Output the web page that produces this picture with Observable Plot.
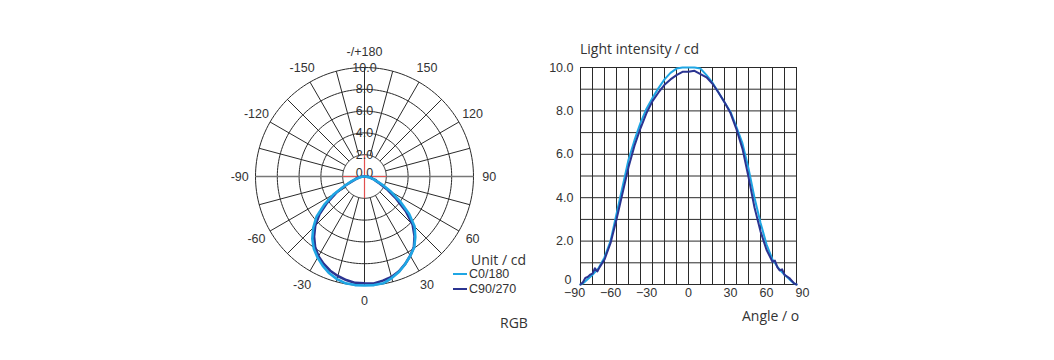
<!DOCTYPE html>
<html><head><meta charset="utf-8">
<script src="https://cdn.jsdelivr.net/npm/d3@7"></script>
<script src="https://cdn.jsdelivr.net/npm/@observablehq/plot@0.6"></script>
<style>
html,body{margin:0;padding:0;background:#fff;}
body{width:1054px;height:360px;position:relative;overflow:hidden;font-family:"Liberation Sans",Arial,sans-serif;}
.abs{position:absolute;white-space:nowrap;}
.os{font-family:"Open Sans",sans-serif;color:#333;line-height:18px;}
.lg{font-family:"Liberation Sans",Arial,sans-serif;color:#333;font-size:12.5px;line-height:14px;}
.sw{position:absolute;width:14px;height:0;border-top:2.5px solid;}
</style></head><body>
<div id="polar" class="abs" style="left:223.5px;top:36px"></div>
<div id="cart" class="abs" style="left:530px;top:47px"></div>
<div id="ylabel" class="abs os" style="left:580px;top:40px;font-size:14px"></div>
<div id="xlabel" class="abs os" style="left:742px;top:307px;font-size:14px"></div>
<div id="unit" class="abs os" style="left:471px;top:251px;font-size:14px"></div>
<div id="legend"></div>
<div id="note" class="abs os" style="left:500px;top:314px;font-size:14px"></div>
<script>
// ---- data ----
const seriesNames = ["C0/180", "C90/270"];
const seriesColors = ["#1fa6e4", "#2b3491"];
const anglesC0 = [-90,-88,-85,-82,-80,-75,-70,-65,-60,-55,-50,-45,-40,-35,-30,-25,-20,-15,-10,-5,0,5,10,15,20,25,30,35,40,45,50,55,60,65,70,75,80,85,88,90];
const valuesC0 = [0,0.05,0.2,0.35,0.45,0.75,1.25,2.0,3.25,4.5,5.75,6.65,7.45,8.1,8.6,9.05,9.45,9.75,9.95,10.0,10.0,10.0,9.95,9.65,9.3,8.85,8.4,7.95,7.25,6.5,5.35,4.0,2.85,1.85,1.15,0.75,0.45,0.2,0.05,0];
const anglesC90 = [-90,-88,-86,-84,-82,-80,-78,-76,-74,-70,-65,-60,-55,-50,-45,-40,-35,-30,-25,-20,-15,-10,-5,0,5,10,15,20,25,30,35,40,45,50,55,60,65,70,72,74,76,78,80,84,88,90];
const valuesC90 = [0,0.1,0.3,0.35,0.45,0.5,0.75,0.6,0.8,1.15,1.9,3.0,4.2,5.4,6.4,7.2,7.9,8.45,8.85,9.2,9.45,9.65,9.8,9.8,9.85,9.7,9.55,9.25,8.85,8.4,7.9,7.15,6.25,4.95,3.55,2.45,1.6,1.05,1.1,0.8,0.65,0.7,0.45,0.3,0.05,0];
const yTicks = [0, 2, 4, 6, 8, 10];
const yTickLabels = ["0", "2.0", "4.0", "6.0", "8.0", "10.0"];
const xTicks = [-90, -60, -30, 0, 30, 60, 90];
const polarRings = [2, 4, 6, 8, 10];
const polarRingLabelValues = [0, 2, 4, 6, 8, 10];
const polarRingLabels = ["0.0", "2.0", "4.0", "6.0", "8.0", "10.0"];
const polarAngleTicks = [-150, -120, -90, -60, -30, 0, 30, 60, 90, 120, 150, 180];
const polarAngleLabels = ["-150", "-120", "-90", "-60", "-30", "0", "30", "60", "90", "120", "150", "-/+180"];
const spokeStep = 15;
const yAxisTitle = "Light intensity / cd";
const xAxisTitle = "Angle / o";
const unitText = "Unit / cd";
const noteText = "RGB";

// ---- build table ----
const rows = [];
anglesC0.forEach((a, i) => rows.push({series: seriesNames[0], angle: a, value: valuesC0[i]}));
anglesC90.forEach((a, i) => rows.push({series: seriesNames[1], angle: a, value: valuesC90[i]}));
const rowsLightOnTop = rows.filter(d => d.series === seriesNames[1]).concat(rows.filter(d => d.series === seriesNames[0]));

const textColor = "#333";
const gridColor = "#2a2a2a";
const fmtY = d => yTickLabels[yTicks.indexOf(d)];

// ---- cartesian chart ----
const cart = Plot.plot({
  width: 296, height: 267,
  marginLeft: 50, marginRight: 30, marginTop: 20, marginBottom: 30,
  style: {fontFamily: "'Liberation Sans', Arial, sans-serif", fontSize: "12.5px", color: textColor, background: "transparent", overflow: "visible"},
  x: {domain: [-90, 90]},
  y: {domain: [0, 10]},
  color: {domain: seriesNames, range: seriesColors},
  marks: [
    Plot.gridX(d3.range(-90, 91, 10), {stroke: gridColor, strokeOpacity: 1}),
    Plot.gridY(d3.range(0, 10.001, 1), {stroke: gridColor, strokeOpacity: 1}),
    Plot.axisX(xTicks.filter(d => d < 0), {tickSize: 0, tickPadding: 4, label: null, fill: textColor, dx: -6}),
    Plot.axisX(xTicks.filter(d => d === 0), {tickSize: 0, tickPadding: 4, label: null, fill: textColor}),
    Plot.axisX(xTicks.filter(d => d > 0), {tickSize: 0, tickPadding: 4, label: null, fill: textColor, dx: 6}),
    Plot.axisY(yTicks.filter(d => d > 0), {tickSize: 0, tickPadding: 7, label: null, fill: textColor, tickFormat: fmtY}),
    Plot.axisY(yTicks.filter(d => d === 0), {tickSize: 0, tickPadding: 9, label: null, fill: textColor, tickFormat: fmtY, dy: -5}),
    Plot.line(rows, {x: "angle", y: "value", z: "series", stroke: "series", strokeWidth: 2})
  ]
});
document.getElementById("cart").appendChild(cart);

// ---- polar chart ----
const S = 280, half = 140 / 10.9;
const rad = a => a * Math.PI / 180;
const px = (a, r) => r * Math.sin(rad(a));
const py = (a, r) => -r * Math.cos(rad(a));
const ringPts = polarRings.flatMap(r => d3.range(0, 361, 2).map(a => ({ring: r, x: px(a, r), y: py(a, r)})));
const spokes = d3.range(0, 360, spokeStep).filter(a => a % 90 !== 0);
const inner = polarRings[0], outer = polarRings[polarRings.length - 1];
const labelR = 11.45;

const polar = Plot.plot({
  width: S, height: S, margin: 0,
  style: {fontFamily: "'Liberation Sans', Arial, sans-serif", fontSize: "12.5px", color: textColor, background: "transparent", overflow: "visible"},
  x: {domain: [-half, half], axis: null},
  y: {domain: [-half, half], axis: null},
  color: {domain: seriesNames, range: seriesColors},
  marks: [
    Plot.line(ringPts, {x: "x", y: "y", z: "ring", stroke: gridColor, strokeWidth: 1}),
    Plot.link(spokes, {x1: a => px(a, inner), y1: a => py(a, inner), x2: a => px(a, outer), y2: a => py(a, outer), stroke: gridColor, strokeWidth: 1}),
    Plot.link([90], {x1: -outer, y1: 0, x2: outer, y2: 0, stroke: "#777", strokeWidth: 1.6}),
    Plot.link([0, 180], {x1: 0, y1: a => py(a, inner), x2: 0, y2: a => py(a, outer), stroke: gridColor, strokeWidth: 1}),
    Plot.link([0], {x1: -inner, y1: 0, x2: inner, y2: 0, stroke: "#e0504f", strokeWidth: 1.2}),
    Plot.link([0], {x1: 0, y1: -inner, x2: 0, y2: inner, stroke: "#e0504f", strokeWidth: 1.2}),
    Plot.text(polarRingLabelValues.filter(d => d > 0), {x: 0, y: d => d, text: d => polarRingLabels[polarRingLabelValues.indexOf(d)], fill: textColor}),
    Plot.text(polarRingLabelValues.filter(d => d === 0), {x: 0, y: d => d, text: d => polarRingLabels[polarRingLabelValues.indexOf(d)], fill: textColor, dy: -4}),
    Plot.text(polarAngleTicks, {x: a => px(a, labelR), y: a => py(a, labelR), text: (d, i) => polarAngleLabels[i], fill: textColor}),
    Plot.line(rowsLightOnTop, {x: d => px(d.angle, d.value), y: d => py(d.angle, d.value), z: "series", stroke: "series", strokeWidth: 2.6})
  ]
});
document.getElementById("polar").appendChild(polar);

// ---- texts & legend ----
document.getElementById("ylabel").textContent = yAxisTitle;
document.getElementById("xlabel").textContent = xAxisTitle;
document.getElementById("unit").textContent = unitText;
document.getElementById("note").textContent = noteText;
const lg = document.getElementById("legend");
seriesNames.forEach((name, i) => {
  const yc = 274 + i * 15;
  const sw = document.createElement("div");
  sw.className = "sw";
  sw.style.left = "453px"; sw.style.top = (yc - 1) + "px"; sw.style.borderTopColor = seriesColors[i];
  lg.appendChild(sw);
  const t = document.createElement("div");
  t.className = "abs lg";
  t.style.left = "469px"; t.style.top = (yc - 7) + "px";
  t.textContent = name;
  lg.appendChild(t);
});
</script>
</body></html>
